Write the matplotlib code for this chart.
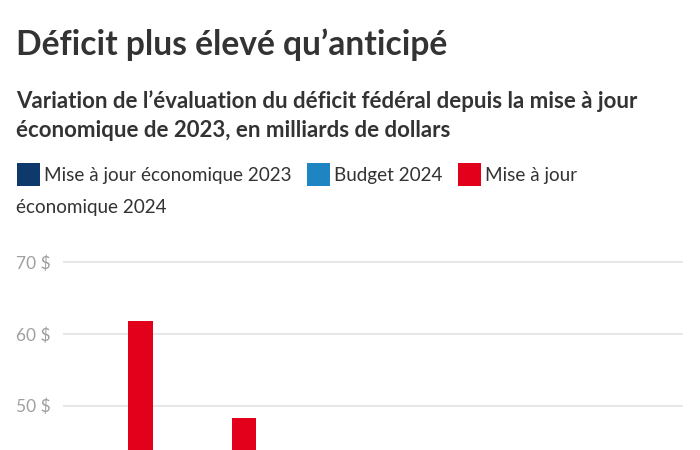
import matplotlib.pyplot as plt
from matplotlib.patches import Rectangle
import numpy as np

# data (milliards de dollars)
years = ['2023-2024', '2024-2025', '2025-2026', '2026-2027', '2027-2028', '2028-2029']
series_names = ['Mise à jour économique 2023', 'Budget 2024', 'Mise à jour économique 2024']
maj_2023 = [40.0, 38.4, 38.3, 29.0, 23.8, 18.4]
budget_2024 = [40.0, 39.8, 38.9, 31.0, 26.8, 20.0]
maj_2024 = [61.8, 48.3, 42.2, 36.0, 30.3, 27.1]
yticks = [0, 10, 20, 30, 40, 50, 60, 70]

COLORS = ['#0d3a6b', '#1e84c2', '#e2001a']
TEXT = '#333333'
W, H = 700, 450

plt.rcParams['font.family'] = ['Lato', 'DejaVu Sans']

fig = plt.figure(figsize=(7, 4.5), dpi=100)


def fy(px):
    """pixel from top -> figure fraction"""
    return 1 - px / H


# titles
fig.text(16 / W, fy(55), 'Déficit plus élevé qu’anticipé', fontsize=24.2,
         fontweight='bold', color=TEXT, va='baseline')
fig.text(16 / W, fy(108), 'Variation de l’évaluation du déficit fédéral depuis la mise à jour',
         fontsize=16, fontweight='bold', color=TEXT, va='baseline')
fig.text(16 / W, fy(137), 'économique de 2023, en milliards de dollars',
         fontsize=16, fontweight='bold', color=TEXT, va='baseline')

# legend drawn by hand (wraps like the original)
legend_items = [(17, series_names[0]), (307, series_names[1]), (458, 'Mise à jour')]
for (x, label), c in zip(legend_items, COLORS):
    fig.add_artist(Rectangle((x / W, fy(186)), 23 / W, 23 / H, transform=fig.transFigure,
                             facecolor=c, edgecolor='none'))
    fig.text((x + 27) / W, fy(181), label, fontsize=13.6, fontweight='normal',
             color=TEXT, va='baseline')
fig.text(16 / W, fy(213), 'économique 2024', fontsize=13.6, fontweight='normal',
         color=TEXT, va='baseline')

# axes: only the upper part of the chart is in view (the picture is cropped)
px_per_unit = 7.17
ytop, ybottom = 72, 50 - (H - 405.7) / px_per_unit
ax = fig.add_axes([63 / W, 0, 620 / W, (ytop - ybottom) * px_per_unit / H])

x = np.arange(len(years))
width = 0.235
for i, (vals, c) in enumerate(zip([maj_2023, budget_2024, maj_2024], COLORS)):
    ax.bar(x + (i - 1) * 0.25, vals, width, color=c, label=series_names[i], zorder=3)

ax.set_yticks(yticks)
ax.set_yticklabels([f'{v} $' for v in yticks], fontsize=12.5, color='#a0a0a0')
ax.set_xticks(x)
ax.set_xlim(-0.5, len(years) - 0.5)
ax.set_ylim(ybottom, ytop)
ax.tick_params(axis='y', length=0, pad=9)
ax.tick_params(axis='x', length=0, labelbottom=False)
ax.grid(axis='y', color='#e3e3e3', linewidth=1.2, zorder=0)
for s in ax.spines.values():
    s.set_visible(False)

fig.savefig('out.png', dpi=100)
